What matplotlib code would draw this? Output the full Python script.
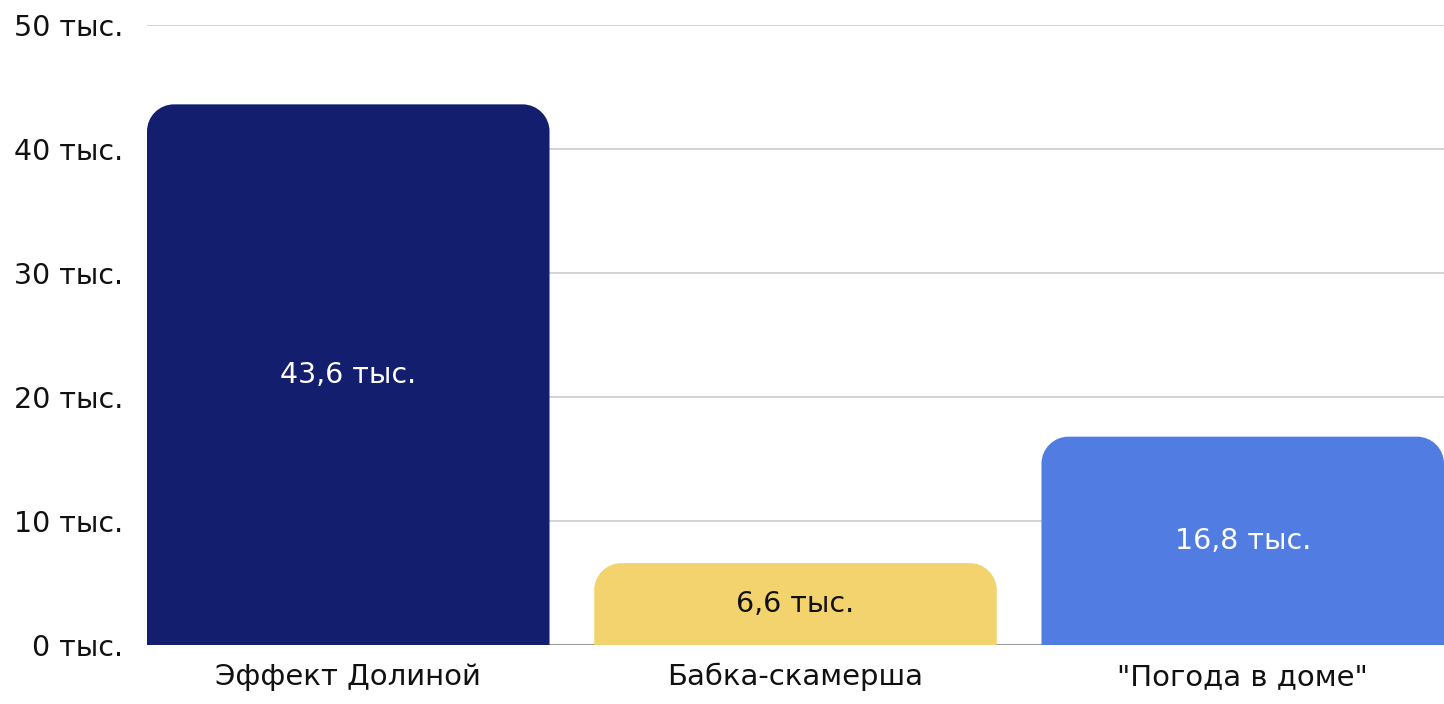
import matplotlib.pyplot as plt
from matplotlib.path import Path
from matplotlib.patches import PathPatch

categories = ["Эффект Долиной", "Бабка-скамерша", "\"Погода в доме\""]
values = [43600, 6600, 16800]
value_labels = ["43,6 тыс.", "6,6 тыс.", "16,8 тыс."]
colors = ["#131F6E", "#F3D36E", "#517CE1"]
label_colors = ["white", "#111111", "white"]
yticks = [0, 10000, 20000, 30000, 40000, 50000]
ytick_labels = ["0 тыс.", "10 тыс.", "20 тыс.", "30 тыс.", "40 тыс.", "50 тыс."]

plt.rcParams['font.family'] = ['DejaVu Sans']

W, H = 1444, 704
fig = plt.figure(figsize=(W / 100, H / 100), dpi=100)
ax = fig.add_axes([147 / W, 59 / H, (W - 147) / W, (645 - 25) / H])

bar_w = 0.9
ax.set_xlim(-bar_w / 2, len(categories) - 1 + bar_w / 2)
ax.set_ylim(0, 50000)

# radius of top corners in pixels, converted to data units
r_px = 27
ax_w_px = ax.get_position().width * W
ax_h_px = ax.get_position().height * H
rx = r_px * (ax.get_xlim()[1] - ax.get_xlim()[0]) / ax_w_px
ry = r_px * (ax.get_ylim()[1] - ax.get_ylim()[0]) / ax_h_px
k = 0.5523


def rounded_top(x0, x1, h):
    verts = [(x0, 0), (x0, h - ry),
             (x0, h - ry * (1 - k)), (x0 + rx * (1 - k), h), (x0 + rx, h),
             (x1 - rx, h),
             (x1 - rx * (1 - k), h), (x1, h - ry * (1 - k)), (x1, h - ry),
             (x1, 0), (x0, 0)]
    codes = [Path.MOVETO, Path.LINETO,
             Path.CURVE4, Path.CURVE4, Path.CURVE4,
             Path.LINETO,
             Path.CURVE4, Path.CURVE4, Path.CURVE4,
             Path.LINETO, Path.CLOSEPOLY]
    return Path(verts, codes)


xs = list(range(len(categories)))
bars = ax.bar(xs, values, width=bar_w, color=colors, zorder=2)
for b, c in zip(bars, colors):
    b.set_visible(False)
    x0 = b.get_x()
    ax.add_patch(PathPatch(rounded_top(x0, x0 + b.get_width(), b.get_height()),
                           facecolor=c, edgecolor="none", zorder=2))

for x, v, lab, lc in zip(xs, values, value_labels, label_colors):
    ax.text(x, v / 2, lab, ha="center", va="center", color=lc, fontsize=20.5, zorder=3)

ax.set_yticks(yticks)
ax.set_yticklabels(ytick_labels)
ax.set_xticks(xs)
ax.set_xticklabels(categories)
ax.tick_params(axis="both", length=0, labelsize=20.5, colors="#111111")
ax.tick_params(axis="x", labelsize=21, pad=13)
ax.tick_params(axis="y", pad=17)

for y in yticks[1:]:
    ax.axhline(y, color="#CCCCCC", lw=1.2, zorder=1)
ax.axhline(0, color="#999999", lw=1.5, zorder=1)

for s in ax.spines.values():
    s.set_visible(False)

fig.savefig("out.png", dpi=100)
